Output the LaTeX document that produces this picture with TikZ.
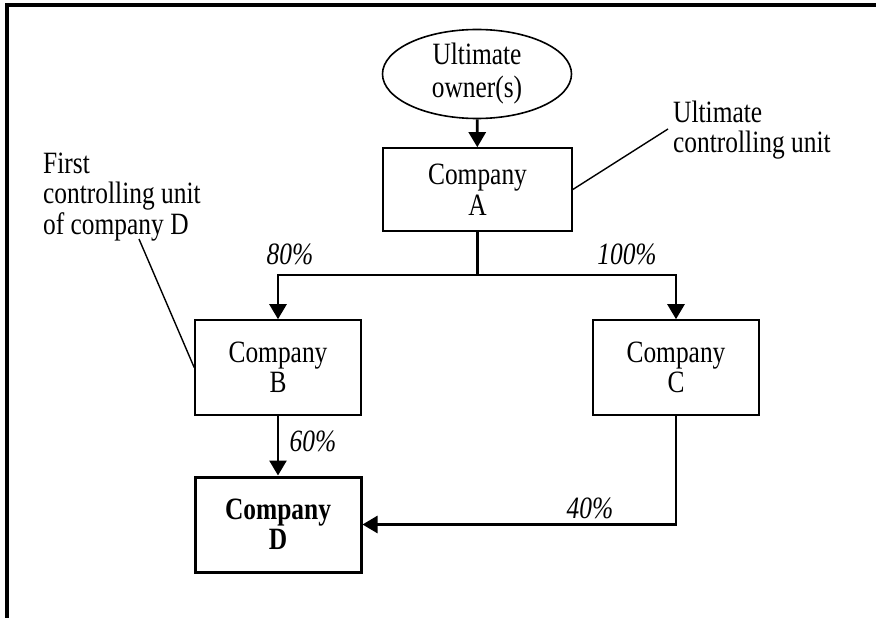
\documentclass[tikz,border=0pt]{standalone}
\usepackage{fontspec}
\setmainfont{Liberation Serif}[FakeStretch=0.82]
\usetikzlibrary{arrows.meta,shapes.geometric}
\begin{document}
\begin{tikzpicture}[x=1pt,y=-1pt,
  every node/.style={font=\fontsize{31}{30.5}\selectfont, align=center},
  box/.style={draw, line width=1.6pt, rectangle, inner sep=0pt},
  arr/.style={line width=2.6pt, -{Triangle[width=17pt,length=15pt]}},
  trunk/.style={line width=2.6pt},
  leader/.style={line width=1.4pt},
  pct/.style={font=\fontsize{31}{30.5}\selectfont\itshape, inner sep=0pt}]
\useasboundingbox (0,0) rectangle (876,618);
\draw[line width=3.2pt] (7,618) -- (7,5) -- (876,5);

\node[ellipse, draw, line width=1.6pt, minimum width=189pt, minimum height=89pt, inner sep=0pt, font=\fontsize{31}{33}\selectfont] (own) at (477,74) {Ultimate\\owner(s)};
\node[box, minimum width=189pt, minimum height=83pt] (A) at (477.5,189.5) {Company\\A};
\node[box, minimum width=166pt, minimum height=95pt] (B) at (278,367.5) {Company\\B};
\node[box, minimum width=166pt, minimum height=95pt] (C) at (676,367.5) {Company\\C};
\node[box, line width=3pt, minimum width=166pt, minimum height=95pt, font=\fontsize{31}{30.5}\selectfont\bfseries] (D) at (278,524.5) {Company\\D};

\coordinate (J) at (477.5,275);
\draw[arr] (own) -- (A);
\draw[trunk] (A.south) -- (J);
\draw[arr] (J) -| (B.north);
\draw[arr] (J) -| (C.north);
\draw[arr] (B) -- (D);
\draw[arr] (C.south) |- (D.east);

\node[pct] (p80) at (290,254) {80\%};
\node[pct] (p100) at (627,254) {100\%};
\node[pct] (p60) at (313,441) {60\%};
\node[pct] (p40) at (590,508) {40\%};

\node[anchor=west, align=left, inner sep=0pt] (uc) at (673,130) {Ultimate\\controlling unit};
\coordinate (ucend) at (668,129);
\draw[leader] (A.east) -- (ucend);

\node[anchor=west, align=left, inner sep=0pt] (fc) at (43,197) {First\\controlling unit\\of company D};
\coordinate (fcend) at (139,239);
\draw[leader] (fcend) -- (B.west);
\end{tikzpicture}
\end{document}
